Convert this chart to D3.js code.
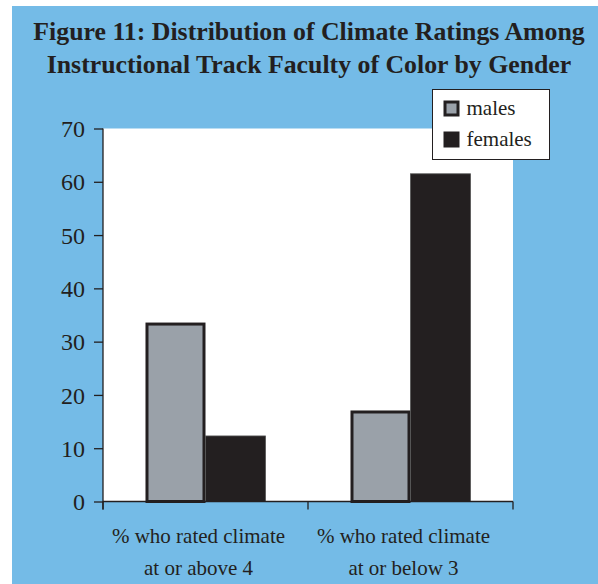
<!DOCTYPE html>
<html>
<head>
<meta charset="utf-8">
<script src="https://cdn.jsdelivr.net/npm/d3@7/dist/d3.min.js"></script>
<style>
  html, body { margin: 0; padding: 0; background: #ffffff; }
  svg { display: block; }
  text { font-family: "Liberation Serif", "Times New Roman", serif; fill: #231f20; }
</style>
</head>
<body>
<svg id="chart" width="598" height="584"></svg>
<script>
// Climate ratings of instructional-track faculty of color, by gender (percent)
const categories = [
  ["% who rated climate", "at or above 4"],
  ["% who rated climate", "at or below 3"]
];
const seriesNames = ["males", "females"];
const males = [33.3, 16.8];
const females = [12.3, 61.5];
const yTicks = [0, 10, 20, 30, 40, 50, 60, 70];
const titleLines = [
  "Figure 11: Distribution of Climate Ratings Among",
  "Instructional Track Faculty of Color by Gender"
];

const colors = { males: "#9aa1a9", females: "#231f20" };
const ink = "#231f20";
const blue = "#74bbe7";

const svg = d3.select("#chart");

// blue panel
svg.append("rect").attr("x", 12).attr("y", 6).attr("width", 598 - 12).attr("height", 584 - 6)
  .attr("fill", blue);

// title
svg.append("g").selectAll("text").data(titleLines).join("text")
  .attr("x", 309)
  .attr("y", (d, i) => 40 + i * 33)
  .attr("text-anchor", "middle")
  .attr("font-weight", "bold")
  .attr("font-size", 25.8)
  .text(d => d);

// plot area
const plot = { left: 103, right: 513, top: 128.5, bottom: 501.5 };

const x = d3.scaleBand().domain(d3.range(categories.length))
  .range([plot.left, plot.right]).paddingInner(0).paddingOuter(0);
const xs = d3.scaleBand().domain(seriesNames)
  .range([0, x.bandwidth()]).paddingInner(0).paddingOuter(0.708);
const y = d3.scaleLinear().domain([0, 70]).range([plot.bottom, plot.top]);

svg.append("rect")
  .attr("x", plot.left).attr("y", plot.top)
  .attr("width", plot.right - plot.left).attr("height", plot.bottom - plot.top)
  .attr("fill", "#ffffff");

// bars
const rows = categories.map((c, i) => ({ i, males: males[i], females: females[i] }));
const groups = svg.append("g").selectAll("g").data(rows).join("g")
  .attr("transform", d => `translate(${x(d.i)},0)`);

groups.selectAll("rect")
  .data(d => seriesNames.map(s => ({ s, v: d[s] })))
  .join("rect")
  .attr("x", d => xs(d.s) + (d.s === "males" ? 1.5 : 0))
  .attr("y", d => y(d.v))
  .attr("width", d => xs.bandwidth() - (d.s === "males" ? 3 : 0))
  .attr("height", d => y(0) - y(d.v))
  .attr("fill", d => colors[d.s])
  .attr("stroke", d => d.s === "males" ? ink : "#555")
  .attr("stroke-width", d => d.s === "males" ? 3 : 0.8);

// y axis
const yAxis = svg.append("g")
  .attr("transform", `translate(${plot.left},0)`)
  .call(d3.axisLeft(y).tickValues(yTicks).tickSize(9).tickPadding(9));
yAxis.select(".domain").attr("stroke", ink).attr("stroke-width", 1.3)
  .attr("d", `M0,${plot.top}V${plot.bottom + 8}`);
yAxis.selectAll(".tick line").attr("stroke", ink).attr("stroke-width", 1.3);
yAxis.selectAll(".tick text")
  .attr("font-size", 24)
  .attr("font-family", "Liberation Serif, serif")
  .attr("fill", ink)
  .attr("dy", "0.34em");

// x axis
const xAxis = svg.append("g").attr("transform", `translate(0,${plot.bottom})`);
xAxis.append("path")
  .attr("d", `M${plot.left},0H${plot.right}`)
  .attr("stroke", ink).attr("stroke-width", 1.3).attr("fill", "none");
const xTickPos = d3.range(categories.length + 1).map(i =>
  i < categories.length ? x(i) : x(i - 1) + x.bandwidth());
xAxis.selectAll("line.tk").data(xTickPos).join("line")
  .attr("class", "tk")
  .attr("x1", d => d).attr("x2", d => d)
  .attr("y1", 0).attr("y2", 8)
  .attr("stroke", ink).attr("stroke-width", 1.3);

// category labels
const labels = svg.append("g").selectAll("text").data(categories).join("text")
  .attr("text-anchor", "middle")
  .attr("font-size", 21)
  .attr("transform", (d, i) => `translate(${x(i) + x.bandwidth() / 2 - 7},0)`);
labels.selectAll("tspan").data(d => d).join("tspan")
  .attr("x", 0)
  .attr("y", (d, j) => 543 + j * 32)
  .text(d => d);

// legend
const legend = svg.append("g").attr("transform", "translate(432.5,89.5)");
legend.append("rect").attr("width", 117).attr("height", 70)
  .attr("fill", "#ffffff").attr("stroke", ink).attr("stroke-width", 1);
const li = legend.selectAll("g").data(seriesNames).join("g")
  .attr("transform", (d, i) => `translate(11,${11 + i * 31})`);
li.append("rect")
  .attr("x", d => d === "males" ? 1.5 : 0)
  .attr("y", d => d === "males" ? 1.5 : 0)
  .attr("width", d => d === "males" ? 13 : 16)
  .attr("height", d => d === "males" ? 13 : 16)
  .attr("fill", d => colors[d])
  .attr("stroke", ink)
  .attr("stroke-width", d => d === "males" ? 3 : 0);
li.append("text")
  .attr("x", 23).attr("y", 14)
  .attr("font-size", 21)
  .text(d => d);
</script>
</body>
</html>
